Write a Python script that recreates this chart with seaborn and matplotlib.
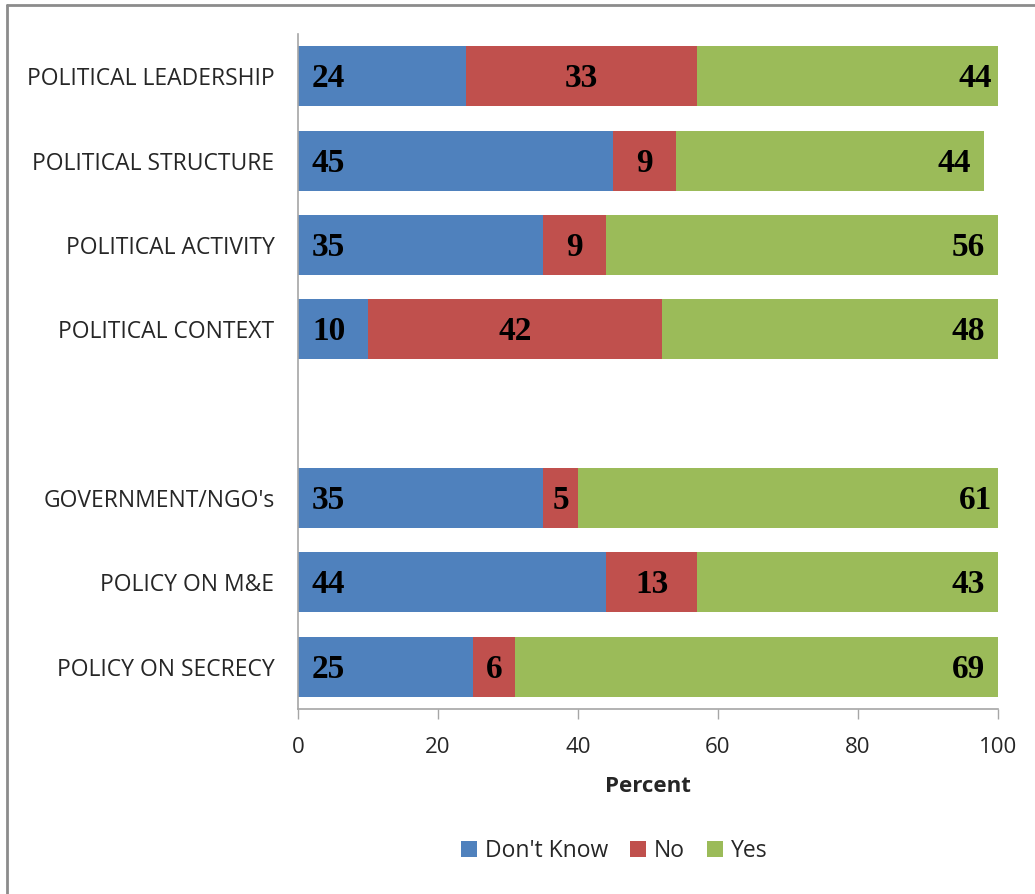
import matplotlib
matplotlib.use("Agg")
import matplotlib.pyplot as plt
from matplotlib.lines import Line2D
from matplotlib.patches import Patch
import seaborn as sns
import pandas as pd
import numpy as np

# Survey responses (percent) per item; the blank entry separates the two groups
categories = ["POLITICAL LEADERSHIP", "POLITICAL STRUCTURE", "POLITICAL ACTIVITY",
              "POLITICAL CONTEXT", "", "GOVERNMENT/NGO's", "POLICY ON M&E",
              "POLICY ON SECRECY"]
dont_know = [24, 45, 35, 10, None, 35, 44, 25]
no = [33, 9, 9, 42, None, 5, 13, 6]
yes = [44, 44, 56, 48, None, 61, 43, 69]

series_names = ["Don't Know", "No", "Yes"]
colors = ["#4F81BD", "#C0504D", "#9BBB59"]
x_ticks = [0, 20, 40, 60, 80, 100]

sns.set_theme(style="white")
plt.rcParams["font.family"] = ["Open Sans", "DejaVu Sans"]

rows = [(c, d, n, y) for c, d, n, y in zip(categories, dont_know, no, yes) if d is not None]
df = pd.DataFrame(rows, columns=["item", "dk", "no", "yes"])
df["cum_no"] = df["dk"] + df["no"]
df["cum_yes"] = df["cum_no"] + df["yes"]

fig = plt.figure(figsize=(10.35, 8.94), dpi=100)
ax = fig.add_axes([298 / 1035, 1 - 709 / 894, 700 / 1035, 675 / 894])

# stacked bars: draw cumulative totals from the back to the front
for col, color in [("cum_yes", colors[2]), ("cum_no", colors[1]), ("dk", colors[0])]:
    sns.barplot(data=df, x=col, y="item", order=categories, orient="h",
                color=color, width=0.71, saturation=1, ax=ax, linewidth=0)

label_font = dict(family=["Liberation Serif", "DejaVu Serif"], fontsize=24,
                  fontweight="bold", color="black", va="center")
for _, r in df.iterrows():
    yi = categories.index(r["item"]) + 0.03
    ax.text(2.0, yi, f"{r['dk']:g}", ha="left", **label_font)
    ax.text(r["dk"] + r["no"] / 2, yi, f"{r['no']:g}", ha="center", **label_font)
    ax.text(r["cum_yes"] - 1.9, yi, f"{r['yes']:g}", ha="right", **label_font)

ax.set_xlim(0, 100)
ax.set_ylim(len(categories) - 0.5, -0.5)
ax.set_xticks(x_ticks)
ax.set_xticklabels([str(t) for t in x_ticks], fontsize=16)
ax.tick_params(axis="y", labelsize=16.5, length=0, pad=17)
ax.tick_params(axis="x", length=7, width=1, color="#A6A6A6", direction="out",
               pad=13, bottom=True)
ax.set_ylabel("")
ax.set_xlabel("Percent", fontsize=16, fontweight="bold", labelpad=13)
for s in ["top", "right"]:
    ax.spines[s].set_visible(False)
for s in ["left", "bottom"]:
    ax.spines[s].set_color("#A6A6A6")
    ax.spines[s].set_linewidth(1.2)

handles = [Patch(facecolor=c, edgecolor="none") for c in colors]
fig.legend(handles, series_names, loc="center", bbox_to_anchor=(614 / 1035, 1 - 851 / 894),
           ncol=3, frameon=False, fontsize=16.5, handlelength=0.7, handleheight=0.7,
           handletextpad=0.35, columnspacing=0.95)

# outer chart frame (top and left edges)
fig.add_artist(Line2D([7 / 1035, 7 / 1035], [0, 1 - 5 / 894], transform=fig.transFigure,
                      color="#8C8C8C", linewidth=2))
fig.add_artist(Line2D([7 / 1035, 1], [1 - 5 / 894, 1 - 5 / 894], transform=fig.transFigure,
                      color="#8C8C8C", linewidth=2))

fig.savefig("out.png", dpi=100)
